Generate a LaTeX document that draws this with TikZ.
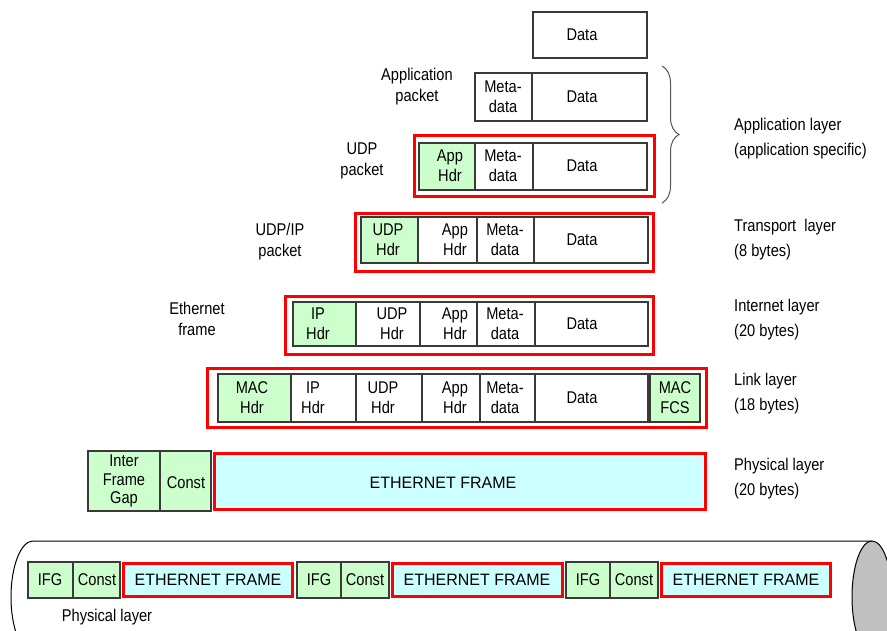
\documentclass[tikz,border=0pt]{standalone}
\usepackage{fontspec}
\setmainfont{Liberation Sans}[FakeStretch=0.86]
\newfontfamily\framefont{Liberation Sans}[FakeStretch=0.97]
\usetikzlibrary{decorations.pathreplacing}

\definecolor{hdrgreen}{HTML}{CCFFCC}
\definecolor{framecyan}{HTML}{CCFFFF}
\definecolor{cellline}{HTML}{3A3A3A}
\definecolor{wirered}{HTML}{FF0000}
\definecolor{cablegray}{HTML}{C0C0C0}
\definecolor{bracegray}{HTML}{555555}

\tikzset{
  cell/.style={draw=cellline, line width=1.2pt},
  hdr/.style={cell, fill=hdrgreen},
  plain/.style={cell, fill=white},
  pdu/.style={draw=wirered, line width=3pt},
  frm/.style={draw=wirered, line width=3pt, fill=framecyan},
  celltext/.style={font=\fontsize{17}{20}\selectfont, align=center, inner sep=0pt},
  gaptext/.style={font=\fontsize{17}{18.5}\selectfont, align=center, inner sep=0pt},
  frametext/.style={font=\framefont\fontsize{16.5}{20}\selectfont, inner sep=0pt},
  pkttext/.style={font=\fontsize{17}{21}\selectfont, align=center, inner sep=0pt},
  layertext/.style={font=\fontsize{17}{25}\selectfont, align=left, anchor=west, inner sep=0pt},
}

\begin{document}
\begin{tikzpicture}[x=1pt, y=-1pt]
\useasboundingbox (0,0) rectangle (887,630);
\clip (0,0) rectangle (887,630);

% ---- raw data ----
\draw[plain] (533,12) rectangle (647,58);
\node[celltext] (d0) at (582,35) {Data};

% ---- application packet ----
\draw[plain] (475,73) rectangle (532,121);
\draw[plain] (532,73) rectangle (647,121);
\node[celltext] (m1) at (503,97) {Meta-\\data};
\node[celltext] (d1) at (582,97) {Data};
\node[pkttext] (lbl1) at (417,87) {Application\\packet};

% ---- UDP packet ----
\draw[pdu] (414,135) rectangle (654,196);
\draw[hdr] (419,143) rectangle (475,190);
\draw[plain] (475,143) rectangle (533,190);
\draw[plain] (533,143) rectangle (647,190);
\node[celltext] (a2) at (450,166) {App\\Hdr};
\node[celltext] (m2) at (503,166) {Meta-\\data};
\node[celltext] (d2) at (582,166) {Data};
\node[pkttext] (lbl2) at (362,161) {UDP\\packet};

% ---- UDP/IP packet ----
\draw[pdu] (355,213) rectangle (653,271);
\draw[hdr] (361,217) rectangle (418,263);
\draw[plain] (418,217) rectangle (477,263);
\draw[plain] (477,217) rectangle (534,263);
\draw[plain] (534,217) rectangle (648,263);
\node[celltext] (u3) at (388,240) {UDP\\Hdr};
\node[celltext] (a3) at (455,240) {App\\Hdr};
\node[celltext] (m3) at (505,240) {Meta-\\data};
\node[celltext] (d3) at (582,240) {Data};
\node[pkttext] (lbl3) at (280,242) {UDP/IP\\packet};

% ---- IP packet ----
\draw[pdu] (285,296) rectangle (653,354);
\draw[hdr] (293,302) rectangle (356,346);
\draw[plain] (356,302) rectangle (420,346);
\draw[plain] (420,302) rectangle (477,346);
\draw[plain] (477,302) rectangle (535,346);
\draw[plain] (535,302) rectangle (648,346);
\node[celltext] (i4) at (318,324) {IP\\Hdr};
\node[celltext] (u4) at (392,324) {UDP\\Hdr};
\node[celltext] (a4) at (455,324) {App\\Hdr};
\node[celltext] (m4) at (505,324) {Meta-\\data};
\node[celltext] (d4) at (582,324) {Data};
\node[pkttext] (lbl4) at (197,319) {Ethernet\\frame};

% ---- Ethernet frame ----
\draw[pdu] (207,368) rectangle (706,427);
\draw[hdr] (218,374) rectangle (291,422);
\draw[plain] (291,374) rectangle (356,422);
\draw[plain] (356,374) rectangle (422,422);
\draw[plain] (422,374) rectangle (480,422);
\draw[plain] (480,374) rectangle (535,422);
\draw[plain] (535,374) rectangle (648,422);
\draw[hdr] (650,374) rectangle (700,422);
\node[celltext] (h5) at (252,398) {MAC\\Hdr};
\node[celltext] (i5) at (313,398) {IP\\Hdr};
\node[celltext] (u5) at (383,398) {UDP\\Hdr};
\node[celltext] (a5) at (455,398) {App\\Hdr};
\node[celltext] (m5) at (505,398) {Meta-\\data};
\node[celltext] (d5) at (582,398) {Data};
\node[celltext] (f5) at (675,398) {MAC\\FCS};

% ---- physical framing ----
\draw[hdr] (88,451) rectangle (160,511);
\draw[hdr] (160,451) rectangle (211,511);
\draw[frm] (214,453) rectangle (705,509);
\node[gaptext] (g6) at (124,481) {Inter\\Frame\\Gap};
\node[celltext] (c6) at (186,483) {Const};
\node[frametext] (e6) at (443,483) {ETHERNET FRAME};

% ---- brace over the application rows ----
\draw[bracegray, line width=1pt, decorate, decoration={brace, amplitude=17pt}]
  (662,66) -- (662,203);

% ---- layer names ----
\node[layertext] (L1) at (734,139) {Application layer\\(application specific)};
\node[layertext] (L2) at (734,240) {Transport\ \ layer\\(8 bytes)};
\node[layertext] (L3) at (734,319.5) {Internet layer\\(20 bytes)};
\node[layertext] (L4) at (734,394) {Link layer\\(18 bytes)};
\node[layertext] (L5) at (734,478.5) {Physical layer\\(20 bytes)};

% ---- cable ----
\draw[black, line width=1pt]
  (872,541) -- (33,541)
  .. controls (20.85,541) and (11,566.1) .. (11,597)
  .. controls (11,627.9) and (20.85,653) .. (33,653) -- (872,653);
\draw[black, line width=1pt, fill=cablegray] (872,597) ellipse [x radius=20pt, y radius=56pt];

% frames on the wire
\draw[hdr] (28,562) rectangle (73,598);
\draw[hdr] (73,562) rectangle (120,598);
\draw[frm] (123.5,563.5) rectangle (292.5,596.5);
\draw[hdr] (297,562) rectangle (341,598);
\draw[hdr] (341,562) rectangle (389,598);
\draw[frm] (392.5,563.5) rectangle (562.5,596.5);
\draw[hdr] (566,562) rectangle (610,598);
\draw[hdr] (610,562) rectangle (658,598);
\draw[frm] (661.5,563.5) rectangle (830.5,596.5);
\node[celltext] (w1) at (50,580) {IFG};
\node[celltext] (w2) at (97,580) {Const};
\node[frametext] (w3) at (208,580) {ETHERNET FRAME};
\node[celltext] (w4) at (319,580) {IFG};
\node[celltext] (w5) at (365,580) {Const};
\node[frametext] (w6) at (477,580) {ETHERNET FRAME};
\node[celltext] (w7) at (588,580) {IFG};
\node[celltext] (w8) at (634,580) {Const};
\node[frametext] (w9) at (746,580) {ETHERNET FRAME};
\node[celltext] (pl) at (107,617) {Physical layer};
\end{tikzpicture}
\end{document}
